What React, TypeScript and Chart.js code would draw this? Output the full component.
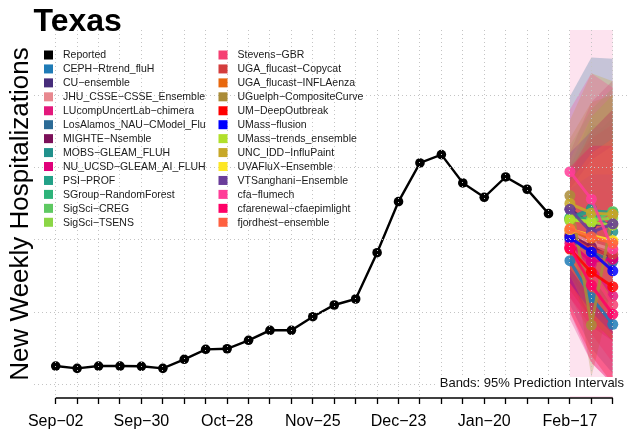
import React, { useEffect, useRef } from 'react';
import { Chart, registerables } from 'chart.js';

Chart.register(...registerables);

// ---------- data ----------
const weekLabels = [
  'Sep−02', 'Sep−09', 'Sep−16', 'Sep−23', 'Sep−30', 'Oct−07', 'Oct−14', 'Oct−21', 'Oct−28',
  'Nov−04', 'Nov−11', 'Nov−18', 'Nov−25', 'Dec−02', 'Dec−09', 'Dec−16', 'Dec−23', 'Dec−30',
  'Jan−06', 'Jan−13', 'Jan−20', 'Jan−27', 'Feb−03', 'Feb−10', 'Feb−17', 'Feb−24', 'Mar−02',
];
const labelEvery = 4;
const reported = [
  253, 221, 253, 253, 249, 221, 346, 484, 492, 609, 747, 747,
  935, 1097, 1180, 1820, 2526, 3061, 3176, 2784, 2586, 2867, 2697, 2360,
];
const forecastWeeks = [24, 25, 26];
const yGridValues = [0, 1000, 2000, 3000, 4000];

const modelNames = [
  'CEPH−Rtrend_fluH', 'CU−ensemble', 'JHU_CSSE−CSSE_Ensemble', 'LUcompUncertLab−chimera',
  'LosAlamos_NAU−CModel_Flu', 'MIGHTE−Nsemble', 'MOBS−GLEAM_FLUH', 'NU_UCSD−GLEAM_AI_FLUH',
  'PSI−PROF', 'SGroup−RandomForest', 'SigSci−CREG', 'SigSci−TSENS', 'Stevens−GBR',
  'UGA_flucast−Copycat', 'UGA_flucast−INFLAenza', 'UGuelph−CompositeCurve', 'UM−DeepOutbreak',
  'UMass−flusion', 'UMass−trends_ensemble', 'UNC_IDD−InfluPaint', 'UVAFluX−Ensemble',
  'VTSanghani−Ensemble', 'cfa−flumech', 'cfarenewal−cfaepimlight', 'fjordhest−ensemble',
];
const modelColors = [
  '#1f7bb6', '#472d7b', '#e8888f', '#e3187c', '#2c6b96', '#7b1059', '#21918c', '#e0007a',
  '#22a187', '#2db37a', '#5ec962', '#8bd646', '#f53f72', '#d43d3d', '#e8680e', '#aa8c38',
  '#ff0000', '#0000ff', '#b1e02b', '#c7a828', '#fde725', '#6a3d9a', '#ff3d98', '#ff0066',
  '#ff6040',
];
const modelMedian = [
  [1710, 1200, 830], [2420, 2210, 2220], [2100, 1950, 1860], [1890, 1660, 1220],
  [2000, 1830, 1700], [2060, 1900, 1750], [2300, 2430, 2110], [1950, 1700, 1730],
  [2280, 2400, 2380], [2300, 2300, 2370], [2290, 2250, 2390], [2260, 2270, 2300],
  [1900, 1550, 1100], [2050, 1850, 1800], [2130, 2020, 1970], [2610, 820, 2350],
  [1870, 1550, 1350], [2030, 1830, 1570], [2280, 2240, 2200], [2500, 2370, 2350],
  [2140, 2060, 1990], [2420, 2100, 2220], [2940, 2560, 1870], [1890, 1370, 970],
  [2150, 2040, 1950],
];
const modelLower = [
  [1100, 500, 150], [1900, 1400, 1100], [1500, 1000, 700], [900, 300, 0],
  [1400, 900, 600], [1500, 1100, 800], [1800, 1600, 1200], [1200, 800, 600],
  [1700, 1500, 1300], [1800, 1500, 1300], [1500, 1100, 900], [1700, 1400, 1200],
  [1200, 700, 300], [1300, 900, 600], [1600, 1300, 1000], [2000, 100, 1300],
  [1000, 400, 0], [1400, 1000, 700], [1600, 1200, 900], [1500, 900, 600],
  [1700, 1400, 1200], [1800, 1300, 1100], [2200, 1500, 700], [1000, 300, 0],
  [1600, 1200, 900],
];
const modelUpper = [
  [2400, 2300, 2100], [2950, 3300, 3600], [2900, 3400, 3700], [3200, 3900, 4200],
  [3980, 4520, 4500], [2700, 3000, 3200], [2900, 3600, 3500], [2800, 3100, 3400],
  [3000, 3700, 4000], [2900, 3400, 3700], [3300, 3800, 4100], [3000, 3500, 3800],
  [2700, 2800, 2600], [3000, 3400, 3600], [2800, 3200, 3400], [3400, 3900, 4000],
  [2900, 3500, 3800], [2700, 2900, 2900], [3100, 3700, 4000], [3650, 4300, 4190],
  [2700, 3100, 3300], [3200, 3500, 3800], [3800, 4300, 4100], [3000, 3300, 3300],
  [2800, 3200, 3400],
];

// ---------- helpers ----------
function rgba(hex: string, a: number) {
  const n = parseInt(hex.slice(1), 16);
  return `rgba(${(n >> 16) & 255},${(n >> 8) & 255},${n & 255},${a})`;
}

const FONT = '"Liberation Sans", Arial, Helvetica, sans-serif';

const decorPlugin = {
  id: 'decor',
  beforeDatasetsDraw(chart: any) {
    const { ctx, chartArea, scales } = chart;
    const x0 = scales.x.getPixelForValue(forecastWeeks[0]);
    const x1 = scales.x.getPixelForValue(forecastWeeks[forecastWeeks.length - 1]);
    ctx.save();
    ctx.fillStyle = '#fde3ef';
    ctx.fillRect(x0, chartArea.top, x1 - x0, chartArea.bottom - chartArea.top);
    ctx.restore();
  },
  afterDraw(chart: any) {
    const { ctx, chartArea, scales } = chart;
    ctx.save();
    // axis line from first to last tick
    const ax0 = scales.x.getPixelForValue(0);
    const ax1 = scales.x.getPixelForValue(weekLabels.length - 1);
    ctx.strokeStyle = '#000';
    ctx.lineWidth = 1.3;
    ctx.beginPath();
    ctx.moveTo(ax0, chartArea.bottom);
    ctx.lineTo(ax1, chartArea.bottom);
    ctx.stroke();

    // bands note
    ctx.fillStyle = '#ffffff';
    ctx.fillRect(437, chartArea.bottom - 21, 630 - 437, 19);
    ctx.fillStyle = '#111';
    ctx.font = `13px ${FONT}`;
    ctx.textAlign = 'right';
    ctx.textBaseline = 'middle';
    ctx.fillText('Bands: 95% Prediction Intervals', 624, 383.5);

    // legend (two columns)
    const names = ['Reported', ...modelNames];
    const cols = ['#000000', ...modelColors];
    const perCol = Math.ceil(names.length / 2);
    ctx.font = `10.5px ${FONT}`;
    ctx.textAlign = 'left';
    names.forEach((nm, i) => {
      const c = Math.floor(i / perCol);
      const r = i % perCol;
      const sx = c === 0 ? 44 : 218.5;
      const cy = 55 + r * 13.94;
      ctx.fillStyle = cols[i];
      ctx.fillRect(sx, cy - 4.5, 9, 9);
      ctx.fillStyle = '#1a1a1a';
      ctx.fillText(nm, sx + 19, cy + 0.5);
    });
    ctx.restore();
  },
};

export default function App() {
  const ref = useRef<HTMLCanvasElement | null>(null);

  useEffect(() => {
    if (!ref.current) return;
    Chart.defaults.font.family = FONT;

    const datasets: any[] = [];
    modelNames.forEach((nm, i) => {
      datasets.push({
        label: nm + ' upper',
        data: forecastWeeks.map((w, j) => ({ x: w, y: modelUpper[i][j] })),
        borderWidth: 0,
        pointRadius: 0,
        fill: '+1',
        backgroundColor: rgba(modelColors[i], 0.26),
        order: 2000 - i,
      });
      datasets.push({
        label: nm + ' lower',
        data: forecastWeeks.map((w, j) => ({ x: w, y: modelLower[i][j] })),
        borderWidth: 0,
        pointRadius: 0,
        fill: false,
        order: 2000 - i,
      });
    });
    modelNames.forEach((nm, i) => {
      datasets.push({
        label: nm,
        data: forecastWeeks.map((w, j) => ({ x: w, y: modelMedian[i][j] })),
        borderColor: rgba(modelColors[i], 0.85),
        backgroundColor: rgba(modelColors[i], 0.85),
        borderWidth: 3,
        pointRadius: 5.5,
        pointBorderWidth: 0,
        pointBackgroundColor: rgba(modelColors[i], 0.85),
        fill: false,
        order: 1000 - i,
      });
    });
    datasets.push({
      label: 'Reported',
      data: reported.map((v, i) => ({ x: i, y: v })),
      borderColor: '#000',
      backgroundColor: '#000',
      borderWidth: 2.4,
      pointRadius: 4.8,
      pointBorderWidth: 0,
      pointBackgroundColor: '#000',
      fill: false,
      order: 0,
    });

    const chart = new Chart(ref.current, {
      type: 'line',
      data: { datasets },
      options: {
        animation: false,
        responsive: false,
        devicePixelRatio: 1,
        layout: { padding: { left: 1, right: 0, top: 0, bottom: 0 } },
        plugins: {
          legend: { display: false },
          tooltip: { enabled: false },
          title: {
            display: true,
            text: 'Texas',
            align: 'start',
            fullSize: false,
            color: '#000',
            font: { size: 32, weight: 'bold', lineHeight: 0.4 },
            padding: { top: 16.1, bottom: 1.1 },
          },
        },
        scales: {
          x: {
            type: 'linear',
            min: -1.037,
            max: 26.827,
            afterBuildTicks: (s: any) => {
              s.ticks = weekLabels.map((_, i) => ({ value: i }));
            },
            afterFit: (s: any) => {
              s.height = 35;
            },
            ticks: {
              autoSkip: false,
              maxRotation: 0,
              minRotation: 0,
              padding: 8,
              color: '#000',
              font: { size: 16 },
              callback: (v: any) => {
                const i = Math.round(Number(v));
                return i % labelEvery === 0 && i <= forecastWeeks[0] ? weekLabels[i] : '';
              },
            },
            grid: {
              color: '#c4c4c4',
              lineWidth: 1,
              tickLength: 6,
              tickColor: '#000',
              tickWidth: 1.3,
              z: 1,
            },
            border: { display: false, dash: [1, 3] },
          },
          y: {
            type: 'linear',
            min: -189,
            max: 4899,
            afterBuildTicks: (s: any) => {
              s.ticks = yGridValues.map((v) => ({ value: v }));
            },
            afterFit: (s: any) => {
              s.width = 32.5;
            },
            ticks: { display: false },
            grid: { color: '#c4c4c4', lineWidth: 1, drawTicks: false, z: 1 },
            border: { display: false, dash: [1, 3] },
            title: {
              display: true,
              text: 'New Weekly Hospitalizations',
              color: '#000',
              font: { size: 26 },
              padding: { top: 4, bottom: 4 },
            },
          },
        },
      },
      plugins: [decorPlugin],
    });
    return () => chart.destroy();
  }, []);

  return (
    <div style={{ position: 'absolute', left: 0, top: 0, width: 630, height: 433, overflow: 'hidden', background: '#fff' }}>
      <canvas ref={ref} width={636} height={433} style={{ width: 636, height: 433, display: 'block' }} />
    </div>
  );
}
